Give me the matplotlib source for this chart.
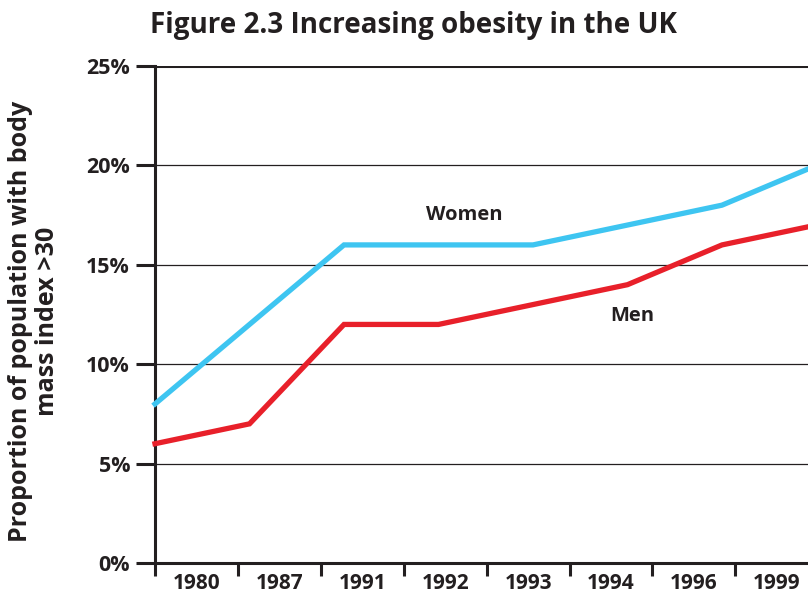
import matplotlib
matplotlib.use("Agg")
import matplotlib.pyplot as plt

years = ["1980", "1987", "1991", "1992", "1993", "1994", "1996", "1999"]
women = [8, 12, 16, 16, 16, 17, 18, 20]
men = [6, 7, 12, 12, 13, 14, 16, 17]
yticks = [0, 5, 10, 15, 20, 25]
ytick_labels = ["0%", "5%", "10%", "15%", "20%", "25%"]

W, H = 808, 599
fig = plt.figure(figsize=(W / 100, H / 100), dpi=100)
plt.rcParams['font.family'] = ['Open Sans', 'DejaVu Sans']

px_step = 94.5      # pixel spacing between data points
tick_step = 82.9    # pixel spacing between category ticks
left_px, right_px = 155, 900
top_px, bot_px = 66, 563
ax = fig.add_axes([left_px / W, 1 - bot_px / H, (right_px - left_px) / W, (bot_px - top_px) / H])
ax.set_xlim(0, (right_px - left_px) / px_step)
ax.set_ylim(0, 25)

xs = list(range(len(years)))
ax.plot(xs, women, color="#3EC5F1", lw=3.8, solid_joinstyle="miter", clip_on=False, zorder=3)
ax.plot(xs, men, color="#E8202A", lw=3.8, solid_joinstyle="miter", clip_on=False, zorder=3)

dark = "#231F20"
for y in [5, 10, 15, 20]:
    ax.axhline(y, color=dark, lw=0.9, zorder=1)
ax.axhline(25, color=dark, lw=2.2, zorder=1)

for s in ["top", "right"]:
    ax.spines[s].set_visible(False)
for s in ["left", "bottom"]:
    ax.spines[s].set_linewidth(2.2)
    ax.spines[s].set_color(dark)

r = tick_step / px_step
ax.set_xticks([k * r for k in range(len(years) + 1)])
ax.set_xticklabels([])
ax.set_xticks([(k + 0.5) * r for k in range(len(years))], minor=True)
ax.set_xticklabels(years, minor=True, fontsize=15, fontweight="bold", color=dark)
ax.tick_params(axis="x", which="major", length=9, width=2.2, color=dark, direction="out")
ax.tick_params(axis="x", which="minor", length=0, pad=7)

ax.set_yticks(yticks)
ax.set_yticklabels(ytick_labels, fontsize=15.5, fontweight="bold", color=dark)
ax.tick_params(axis="y", length=14, width=2.2, color=dark, pad=4)

fig.text(34 / W, 1 - 321 / H, "Proportion of population with body\nmass index >30", fontsize=18,
         fontweight="bold", color=dark, rotation=90, ha="center", va="center",
         multialignment="center", linespacing=1.15)

ax.text(3.27, 17.5, "Women", fontsize=14.5, fontweight="bold", color=dark, ha="center", va="center")
ax.text(5.05, 12.4, "Men", fontsize=14.5, fontweight="bold", color=dark, ha="center", va="center")

fig.text(413 / W, 1 - 25 / H, "Figure 2.3 Increasing obesity in the UK", fontsize=20,
         fontweight="bold", color=dark, ha="center", va="center")

fig.savefig("out.png", dpi=100)
